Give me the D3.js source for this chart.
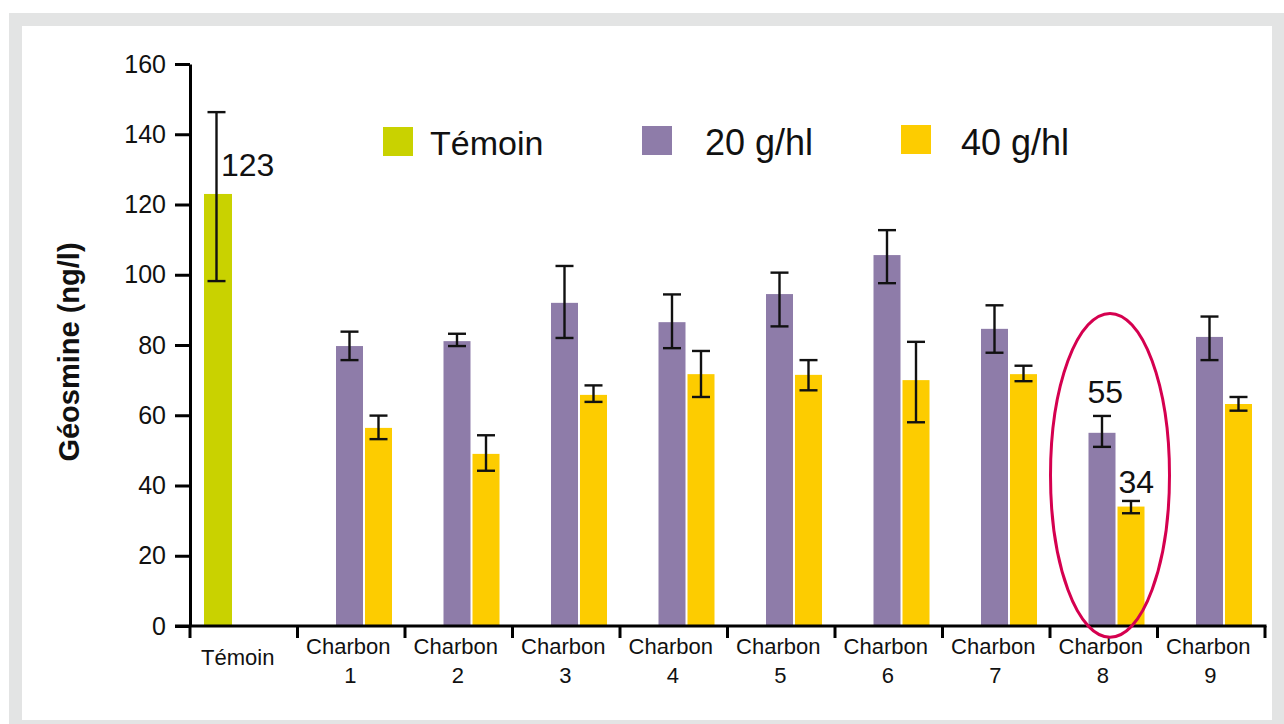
<!DOCTYPE html>
<html>
<head>
<meta charset="utf-8">
<script src="https://cdn.jsdelivr.net/npm/d3@7"></script>
<style>
  html, body { margin: 0; padding: 0; background: #ffffff; }
  svg { display: block; font-family: "Liberation Sans", Arial, sans-serif; }
</style>
</head>
<body>
<svg id="chart" width="1284" height="724"></svg>
<script>
// Géosmine residue after treatment with nine activated charcoals
const categories = ["Témoin", "Charbon 1", "Charbon 2", "Charbon 3", "Charbon 4",
                    "Charbon 5", "Charbon 6", "Charbon 7", "Charbon 8", "Charbon 9"];
const charbons = categories.slice(1);
const seriesNames = ["Témoin", "20 g/hl", "40 g/hl"];

const temoinValue = 123;
const temoinLow = 98.2;
const temoinHigh = 146.3;

const dose20 = [79.7, 81.1, 92.0, 86.5, 94.5, 105.6, 84.6, 55, 82.3];
const dose20Low = [75.7, 79.7, 82.0, 79.1, 85.3, 97.6, 77.8, 51.0, 75.7];
const dose20High = [83.8, 83.2, 102.5, 94.4, 100.6, 112.7, 91.3, 59.8, 88.1];

const dose40 = [56.4, 49.0, 65.8, 71.7, 71.5, 70.0, 71.7, 34, 63.2];
const dose40Low = [53.2, 44.2, 63.8, 65.2, 67.1, 58.0, 69.7, 32.1, 61.3];
const dose40High = [59.9, 54.3, 68.5, 78.3, 75.7, 80.9, 74.1, 35.6, 65.2];

const yTicks = [0, 20, 40, 60, 80, 100, 120, 140, 160];
const yLabel = "Géosmine (ng/l)";

const colors = { "Témoin": "#c9d200", "20 g/hl": "#8e7ca9", "40 g/hl": "#fdcc00" };

const svg = d3.select("#chart");

// frame
svg.append("rect").attr("x", 9).attr("y", 13).attr("width", 1275).attr("height", 711).attr("fill", "#e3e4e4");
svg.append("rect").attr("x", 22).attr("y", 26).attr("width", 1250).attr("height", 694).attr("fill", "#ffffff");

const x = d3.scaleBand().domain(categories).range([190, 1265]).padding(0);
const bw = x.bandwidth();
const xInner = d3.scaleBand().domain(["20 g/hl", "40 g/hl"]).range([38.5, 94.5]).paddingInner(0.069);
const y = d3.scaleLinear().domain([0, 160]).range([626, 64]);

const temoinOffset = 14, temoinWidth = 28;

// rows for the dosed bars
const rows = [];
charbons.forEach((c, i) => {
  rows.push({ cat: c, s: "20 g/hl", v: dose20[i], lo: dose20Low[i], hi: dose20High[i] });
  rows.push({ cat: c, s: "40 g/hl", v: dose40[i], lo: dose40Low[i], hi: dose40High[i] });
});

const g = svg.append("g");

// bars
g.append("rect")
  .attr("x", x("Témoin") + temoinOffset)
  .attr("y", y(temoinValue))
  .attr("width", temoinWidth)
  .attr("height", y(0) - y(temoinValue))
  .attr("fill", colors["Témoin"]);

g.selectAll("rect.bar").data(rows).enter().append("rect")
  .attr("class", "bar")
  .attr("x", d => x(d.cat) + xInner(d.s))
  .attr("y", d => y(d.v))
  .attr("width", xInner.bandwidth())
  .attr("height", d => y(0) - y(d.v))
  .attr("fill", d => colors[d.s]);

// error bars
const errs = rows.map(d => ({ cx: x(d.cat) + xInner(d.s) + xInner.bandwidth() / 2, lo: d.lo, hi: d.hi }));
errs.push({ cx: x("Témoin") + temoinOffset + temoinWidth / 2 - 1.5, lo: temoinLow, hi: temoinHigh });
const capW = 9;
const eg = g.append("g").attr("stroke", "#111").attr("stroke-width", 2.4).attr("fill", "none");
errs.forEach(e => {
  eg.append("line").attr("x1", e.cx).attr("x2", e.cx).attr("y1", y(e.hi)).attr("y2", y(e.lo));
  eg.append("line").attr("x1", e.cx - capW).attr("x2", e.cx + capW).attr("y1", y(e.hi)).attr("y2", y(e.hi));
  eg.append("line").attr("x1", e.cx - capW).attr("x2", e.cx + capW).attr("y1", y(e.lo)).attr("y2", y(e.lo));
});

// y axis
const yAxis = d3.axisLeft(y).tickValues(yTicks).tickSize(15).tickSizeOuter(0).tickPadding(9);
const ya = svg.append("g").attr("transform", "translate(190,0)").call(yAxis);
ya.select(".domain").attr("stroke", "#000").attr("stroke-width", 3);
ya.selectAll(".tick line").attr("stroke", "#000").attr("stroke-width", 3);
ya.selectAll(".tick text").attr("font-size", 25).attr("fill", "#111")
  .attr("font-family", "'Liberation Sans', Arial, sans-serif");

// x axis: baseline and separators between groups
const xa = svg.append("g").attr("stroke", "#000").attr("stroke-width", 3);
xa.append("line").attr("x1", 175).attr("x2", x.range()[1] + 1.5).attr("y1", y(0)).attr("y2", y(0));
const edges = categories.map(c => x(c)).concat([x.range()[1]]);
xa.selectAll("line.sep").data(edges).enter().append("line")
  .attr("class", "sep")
  .attr("x1", d => d).attr("x2", d => d)
  .attr("y1", y(0)).attr("y2", y(0) + 12);

// category labels
const lbl = svg.append("g").attr("font-size", 22).attr("fill", "#111").attr("text-anchor", "middle");
categories.forEach(c => {
  const cx = x(c) + bw / 2;
  const parts = c.split(" ");
  if (parts.length === 1) {
    lbl.append("text").attr("x", cx - 6).attr("y", 665).text(c);
  } else {
    const t = lbl.append("text").attr("x", cx - 2).attr("y", 654);
    t.append("tspan").attr("x", cx - 3).attr("y", 654).text(parts[0]);
    t.append("tspan").attr("x", cx - 1).attr("y", 683).text(parts[1]);
  }
});

// y axis title
svg.append("text")
  .attr("transform", `translate(79, ${y(78)}) rotate(-90)`)
  .attr("text-anchor", "middle")
  .attr("font-size", 29)
  .attr("font-weight", "bold")
  .attr("fill", "#111")
  .text(yLabel);

// value labels
const valLabels = svg.append("g").attr("font-size", 32).attr("fill", "#111");
valLabels.append("text").attr("x", x("Témoin") + temoinOffset + temoinWidth / 2 + 3)
  .attr("y", y(temoinValue) - 18).text(temoinValue);
const i8 = charbons.indexOf("Charbon 8");
valLabels.append("text").attr("x", x("Charbon 8") + xInner("20 g/hl") - 1)
  .attr("y", y(dose20High[i8]) - 13).text(dose20[i8]);
valLabels.append("text").attr("x", x("Charbon 8") + xInner("40 g/hl") + 1)
  .attr("y", y(dose40High[i8]) - 8).text(dose40[i8]);

// highlight ring around Charbon 8
const ringTop = y(89), ringBottom = y(-3.2);
svg.append("ellipse")
  .attr("cx", x("Charbon 8") + 60)
  .attr("cy", (ringTop + ringBottom) / 2)
  .attr("rx", 59.5)
  .attr("ry", (ringBottom - ringTop) / 2)
  .attr("fill", "none")
  .attr("stroke", "#d5004f")
  .attr("stroke-width", 3);

// legend
const legendPos = [
  { s: "Témoin", sx: 383, sy: 127, tx: 430, fs: 34 },
  { s: "20 g/hl", sx: 642, sy: 126, tx: 705, fs: 36 },
  { s: "40 g/hl", sx: 901, sy: 125, tx: 961, fs: 36 }
];
const leg = svg.append("g");
legendPos.forEach((p, i) => {
  leg.append("rect").attr("x", p.sx).attr("y", p.sy).attr("width", 30).attr("height", 29)
    .attr("fill", colors[seriesNames[i]]);
  leg.append("text").attr("x", p.tx).attr("y", 154.5).attr("font-size", p.fs).attr("fill", "#111")
    .text(seriesNames[i]);
});
</script>
</body>
</html>
